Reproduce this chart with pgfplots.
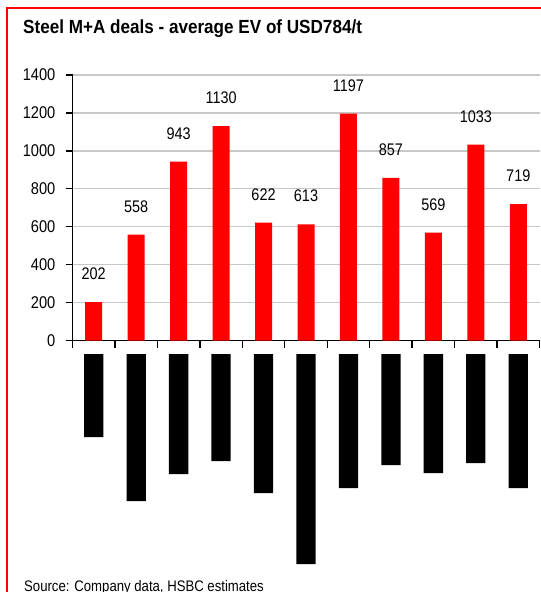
\documentclass[border=0pt]{standalone}
\usepackage{pgfplots}
\pgfplotsset{compat=1.18}
\usepackage{fontspec}
\setmainfont{Liberation Sans}
\newfontfamily\chartfont{Liberation Sans}[FakeStretch=0.86]
\newfontfamily\titlefont{Liberation Sans}[FakeStretch=0.9]

\definecolor{barred}{RGB}{255,0,0}
\definecolor{gridgray}{RGB}{200,200,200}

\begin{document}
\begin{tikzpicture}[x=1pt,y=1pt]
\useasboundingbox (0,0) rectangle (541,-592);

% frame
\draw[barred, line width=2pt] (7,-600) -- (7,-8) -- (560,-8);

% title
\node[anchor=base west, inner sep=0pt, font=\titlefont\bfseries\fontsize{19}{21}\selectfont]
  at (23,-33.3) {Steel M+A deals - average EV of USD784/t};

% EV per tonne
\begin{axis}[
  at={(72.5pt,-340.5pt)}, anchor=south west,
  scale only axis, width=467pt, height=265.5pt,
  xmin=-0.5, xmax=10.5, ymin=0, ymax=1400,
  axis x line=bottom, axis y line=left,
  axis line style={-, black, line width=1.6pt},
  xtick={-0.5,0.5,...,10.5}, xticklabels={},
  ytick={0,200,...,1400},
  tick align=outside, major tick length=7pt,
  tick style={black, line width=1.4pt},
  ymajorgrids, grid style={gridgray, line width=1.4pt},
  /pgf/number format/assume math mode=true,
  /pgf/number format/1000 sep={},
  yticklabel style={font=\chartfont\fontsize{17}{18}\selectfont, inner sep=0pt, inner xsep=10pt},
  ybar, bar width=17pt,
  nodes near coords,
  every node near coord/.append style={font=\chartfont\fontsize{16.8}{18}\selectfont, black, inner sep=0pt, yshift=22pt},
  clip=false,
]
\addplot[fill=barred, draw=none] coordinates {
  (0,202) (1,558) (2,943) (3,1130) (4,622) (5,613)
  (6,1197) (7,857) (8,569) (9,1033) (10,719)
};
\end{axis}

% label blocks under the axis
\begin{axis}[
  at={(72.5pt,-354pt)}, anchor=north west,
  scale only axis, width=467pt, height=250pt,
  xmin=-0.5, xmax=10.5, ymin=-250, ymax=0,
  hide axis, ybar, bar width=19.3pt,
]
\addplot[fill=black, draw=none] coordinates {
  (0,-83) (1,-147) (2,-120) (3,-107) (4,-139) (5,-210)
  (6,-134) (7,-111) (8,-119) (9,-109) (10,-134)
};
\end{axis}

% source
\node[anchor=base west, inner sep=0pt, font=\chartfont\fontsize{15.3}{17}\selectfont]
  at (24,-591) {Source: Company data, HSBC estimates};
\end{tikzpicture}
\end{document}
